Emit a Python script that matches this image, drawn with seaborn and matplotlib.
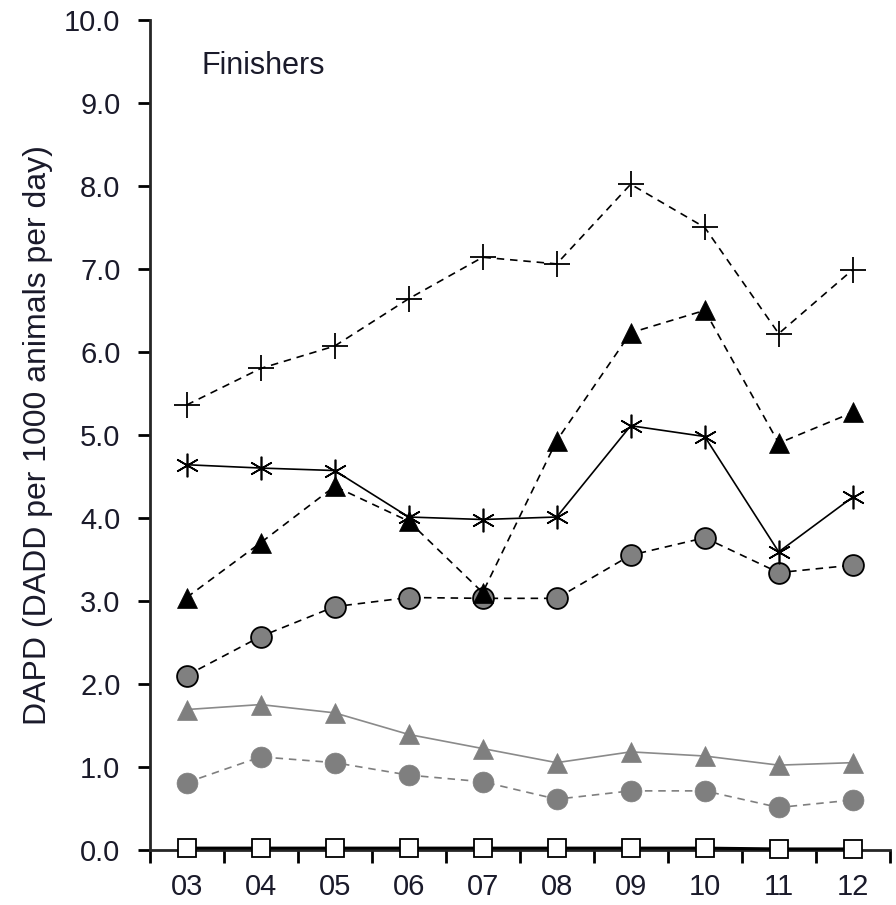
import matplotlib
matplotlib.use("Agg")
import matplotlib.pyplot as plt
import numpy as np
import pandas as pd
import seaborn as sns

years = ["03", "04", "05", "06", "07", "08", "09", "10", "11", "12"]

plus_vals = [5.36, 5.80, 6.07, 6.64, 7.14, 7.06, 8.02, 7.50, 6.22, 6.99]
black_tri_vals = [3.04, 3.70, 4.38, 3.96, 3.10, 4.93, 6.23, 6.50, 4.90, 5.27]
aster_vals = [4.64, 4.60, 4.57, 4.01, 3.98, 4.01, 5.11, 4.98, 3.59, 4.25]
dark_circ_vals = [2.10, 2.57, 2.93, 3.04, 3.03, 3.03, 3.55, 3.76, 3.34, 3.43]
gray_tri_vals = [1.69, 1.75, 1.65, 1.39, 1.22, 1.05, 1.18, 1.13, 1.02, 1.05]
light_circ_vals = [0.81, 1.12, 1.05, 0.90, 0.82, 0.61, 0.71, 0.71, 0.51, 0.60]
square_vals = [0.02, 0.02, 0.02, 0.02, 0.02, 0.02, 0.02, 0.02, 0.01, 0.01]

sns.set_style("ticks")
plt.rcParams["font.family"] = ["Liberation Sans", "DejaVu Sans"]

fig = plt.figure(figsize=(8.96, 9.05), dpi=100)
ax = fig.add_axes([0.167, 0.061, 0.826, 0.917])

x = np.arange(len(years))
dash = (0, (4.5, 3.5))
text_col = "#1a1a2a"

series = [
    # values, marker, size, face, edge, line color, linestyle, mew
    (light_circ_vals, "o", 15, "#7f7f7f", "#7f7f7f", "#7f7f7f", dash, 0.5),
    (gray_tri_vals, "^", 14, "#7f7f7f", "#7f7f7f", "#8a8a8a", "-", 0.5),
    (dark_circ_vals, "o", 15, "#808080", "black", "black", dash, 1.3),
    (black_tri_vals, "^", 14, "black", "black", "black", dash, 0.5),
    (aster_vals, (6, 2, 0), 17, "black", "black", "black", "-", 1.2),
    (plus_vals, "+", 19, "black", "black", "black", dash, 1.3),
]

for vals, marker, ms, fc, ec, lc, ls, mew in series:
    df = pd.DataFrame({"x": x, "y": vals})
    sns.lineplot(data=df, x="x", y="y", ax=ax, color=lc, linewidth=1.2,
                 linestyle=ls, marker=marker, markersize=ms,
                 markerfacecolor=fc, markeredgecolor=ec, markeredgewidth=mew)

sq = pd.DataFrame({"x": x, "y": square_vals})
sns.lineplot(data=sq, x="x", y="y", ax=ax, color="black", linewidth=2.2,
             marker="s", markersize=13, markerfacecolor="white",
             markeredgecolor="black", markeredgewidth=1.3, clip_on=False, zorder=5)

ax.set_xlim(-0.5, 9.5)
ax.set_ylim(0, 10)
ax.set_xticks(x)
ax.set_xticklabels(years)
ax.set_xticks(np.arange(-0.5, 10, 1.0), minor=True)
ax.tick_params(axis="x", which="major", length=0, pad=17, labelsize=21, colors=text_col)
ax.tick_params(axis="x", which="minor", length=9, width=2, direction="out")
ax.set_yticks(np.arange(0, 10.5, 1.0))
ax.set_yticklabels([f"{v:.1f}" for v in np.arange(0, 10.5, 1.0)])
ax.tick_params(axis="y", length=9, width=2, direction="out", pad=12, labelsize=21, colors=text_col)
ax.tick_params(axis="both", which="both", color="black")

sns.despine(ax=ax)
ax.spines["left"].set_linewidth(2)
ax.spines["bottom"].set_linewidth(2)

ax.set_xlabel("")
ax.set_ylabel("DAPD (DADD per 1000 animals per day)", fontsize=23, color=text_col, labelpad=8)
ax.text(0.07, 0.945, "Finishers", transform=ax.transAxes, fontsize=22,
        color=text_col, va="center", ha="left")

fig.savefig("out.png", dpi=100)
